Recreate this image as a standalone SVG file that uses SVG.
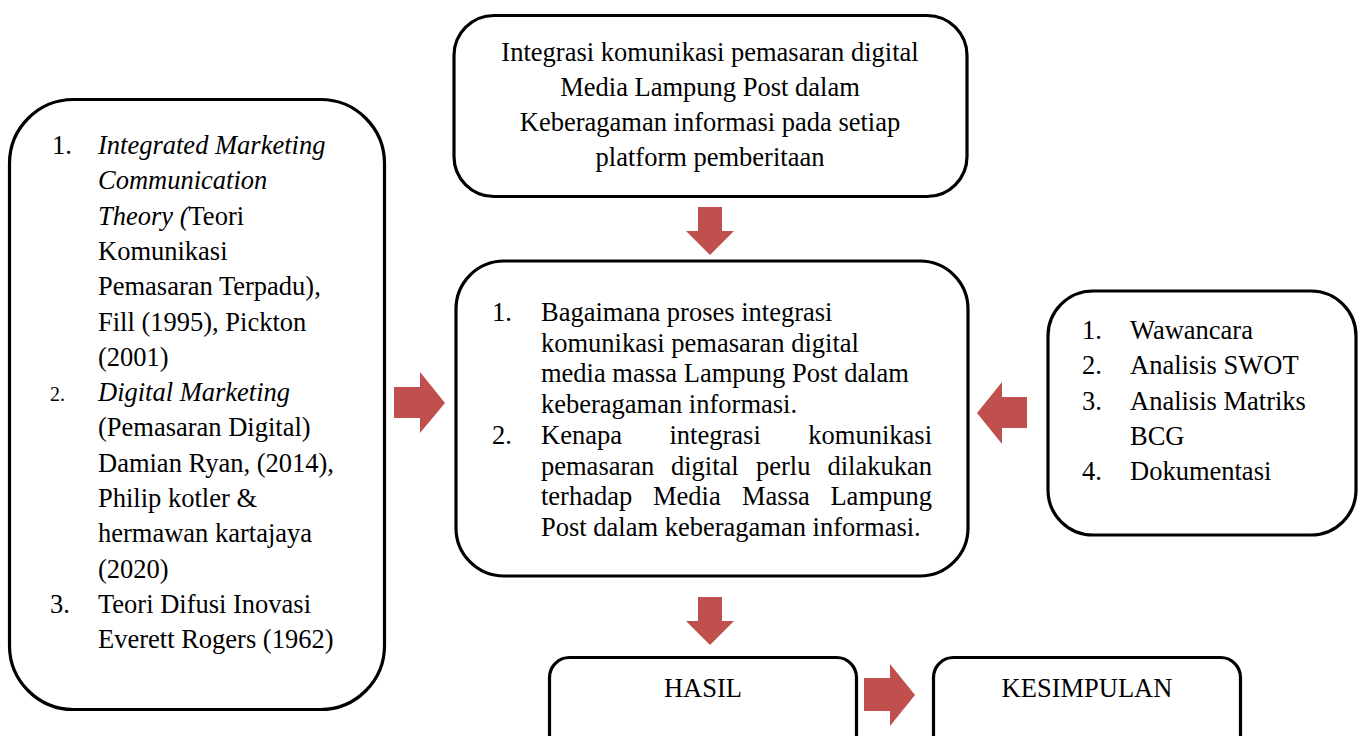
<svg xmlns="http://www.w3.org/2000/svg" width="1362" height="736" viewBox="0 0 1362 736">
<style>
.box{fill:#ffffff;stroke:#000000;stroke-width:3.2}
.t{font-family:"Liberation Serif","Times New Roman",serif;font-size:26.5px;fill:#000000}
.i{font-style:italic}
.c{text-anchor:middle}
.e{text-anchor:end}
.arr{fill:#C0504D}
</style>
<rect x="0" y="0" width="1362" height="736" fill="#ffffff"/>
<g id="connectors">
<polygon class="arr" points="698,207 722,207 722,231 734,231 710,255 686,231 698,231"/>
<polygon class="arr" points="698,597 722,597 722,621 734,621 710,645 686,621 698,621"/>
<polygon class="arr" points="394,387 420,387 420,372 445,403 420,433 420,418 394,418"/>
<polygon class="arr" points="1027,397 1002,397 1002,382 977,413 1002,444 1002,428 1027,428"/>
<polygon class="arr" points="864,678 890,678 890,664 915,695 890,726 890,711 864,711"/>
</g>
<g id="teori">
<rect class="box" x="9.5" y="99.5" width="375" height="610" rx="64" ry="64"/>
<text class="t" x="52" y="154">1.</text>
<text class="t i" x="98" y="154">Integrated Marketing</text>
<text class="t i" x="98" y="189.3">Communication</text>
<text class="t" x="98" y="224.6"><tspan class="i">Theory (</tspan>Teori</text>
<text class="t" x="98" y="259.9">Komunikasi</text>
<text class="t" x="98" y="295.2">Pemasaran Terpadu),</text>
<text class="t" x="98" y="330.5">Fill (1995), Pickton</text>
<text class="t" x="98" y="365.8">(2001)</text>
<text class="t" x="50" y="401.1" style="font-size:20px">2.</text>
<text class="t i" x="98" y="401.1">Digital Marketing</text>
<text class="t" x="98" y="436.4">(Pemasaran Digital)</text>
<text class="t" x="98" y="471.7">Damian Ryan, (2014),</text>
<text class="t" x="98" y="507">Philip kotler &amp;</text>
<text class="t" x="98" y="542.3">hermawan kartajaya</text>
<text class="t" x="98" y="577.6">(2020)</text>
<text class="t" x="50" y="612.9">3.</text>
<text class="t" x="98" y="612.9">Teori Difusi Inovasi</text>
<text class="t" x="98" y="648.2">Everett Rogers (1962)</text>
</g>
<g id="judul">
<rect class="box" x="454" y="15.5" width="513" height="181" rx="40" ry="40"/>
<text class="t c" x="710" y="61">Integrasi komunikasi pemasaran digital</text>
<text class="t c" x="710" y="96">Media Lampung Post dalam</text>
<text class="t c" x="710" y="131">Keberagaman informasi pada setiap</text>
<text class="t c" x="710" y="166">platform pemberitaan</text>
</g>
<g id="rumusan">
<rect class="box" x="456" y="261" width="512" height="315" rx="48" ry="48"/>
<text class="t" x="492" y="321">1.</text>
<text class="t" x="541" y="321">Bagaimana proses integrasi</text>
<text class="t" x="541" y="352">komunikasi pemasaran digital</text>
<text class="t" x="541" y="382">media massa Lampung Post dalam</text>
<text class="t" x="541" y="413">keberagaman informasi.</text>
<text class="t" x="492" y="444">2.</text>
<text class="t" y="444"><tspan x="541">Kenapa</tspan><tspan x="669.5">integrasi</tspan></text>
<text class="t e" x="932" y="444">komunikasi</text>
<text class="t" y="475"><tspan x="541">pemasaran</tspan><tspan x="671">digital</tspan><tspan x="756">perlu</tspan></text>
<text class="t e" x="932" y="475">dilakukan</text>
<text class="t" y="505"><tspan x="541">terhadap</tspan><tspan x="653">Media</tspan><tspan x="742">Massa</tspan></text>
<text class="t e" x="932" y="505">Lampung</text>
<text class="t" x="541" y="536">Post dalam keberagaman informasi.</text>
</g>
<g id="metode">
<rect class="box" x="1048" y="291" width="308" height="244" rx="45" ry="45"/>
<text class="t" x="1082" y="339">1.</text>
<text class="t" x="1130" y="339">Wawancara</text>
<text class="t" x="1082" y="374">2.</text>
<text class="t" x="1130" y="374">Analisis SWOT</text>
<text class="t" x="1082" y="410">3.</text>
<text class="t" x="1130" y="410">Analisis Matriks</text>
<text class="t" x="1130" y="445">BCG</text>
<text class="t" x="1082" y="480">4.</text>
<text class="t" x="1130" y="480">Dokumentasi</text>
</g>
<g id="hasil">
<rect class="box" x="549.5" y="657.5" width="307" height="110" rx="20" ry="20"/>
<text class="t c" x="703" y="697">HASIL</text>
</g>
<g id="kesimpulan">
<rect class="box" x="933.5" y="657.5" width="307" height="110" rx="20" ry="20"/>
<text class="t c" x="1087" y="697">KESIMPULAN</text>
</g>
</svg>
